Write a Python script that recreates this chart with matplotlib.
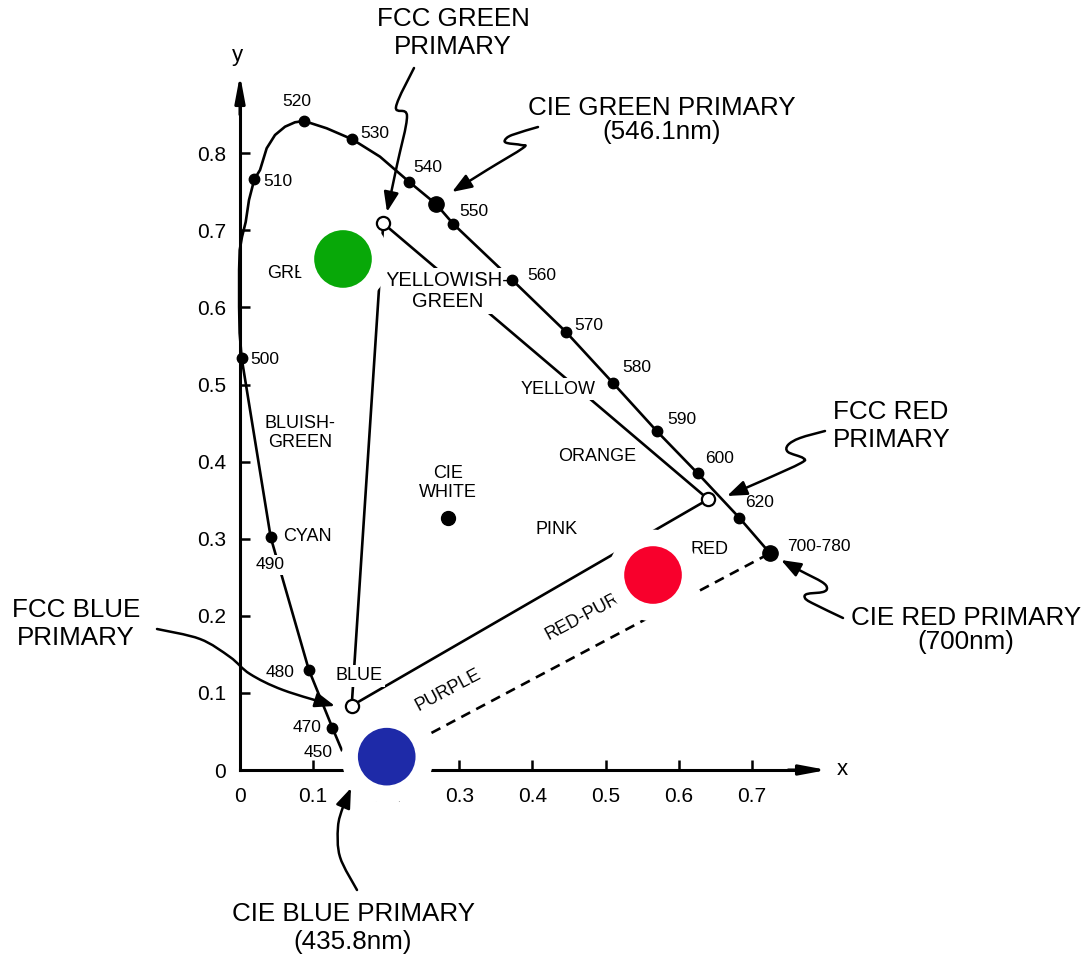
import numpy as np
import matplotlib
matplotlib.use('Agg')
import matplotlib.pyplot as plt
from matplotlib.patches import FancyArrowPatch
from matplotlib.path import Path
from matplotlib.transforms import Affine2D

plt.rcParams['font.family'] = ['Liberation Sans', 'DejaVu Sans']

W, H = 1083, 958

# spectral locus, from the 450 nm end round to 700 nm
locus_x = [0.1392, 0.1265, 0.0941, 0.0420, 0.0023, -0.0005, -0.0012, -0.0012, -0.0004,
           0.0027, 0.0078, 0.0123, 0.0196, 0.0274, 0.0365, 0.0479, 0.0616, 0.0752,
           0.0876, 0.1186, 0.1536, 0.1915, 0.2312, 0.2681, 0.2918, 0.3725, 0.4456,
           0.5103, 0.5700, 0.6261, 0.6830, 0.7250]
locus_y = [0.0259, 0.0545, 0.1301, 0.3018, 0.5340, 0.5668, 0.6009, 0.6485, 0.6744,
           0.6913, 0.7108, 0.7393, 0.7661, 0.7782, 0.8064, 0.8236, 0.8344, 0.8401,
           0.8418, 0.8323, 0.8180, 0.7955, 0.7630, 0.7341, 0.7082, 0.6355, 0.5685,
           0.5019, 0.4397, 0.3848, 0.3272, 0.2811]

# wavelength marks (nm)
wl_labels = ['470', '480', '490', '500', '510', '520', '530', '540', '550',
             '560', '570', '580', '590', '600', '620', '700-780']
wl_x = [0.1265, 0.0941, 0.0420, 0.0023, 0.0196, 0.0876, 0.1536, 0.2312, 0.2918,
        0.3725, 0.4456, 0.5103, 0.5700, 0.6261, 0.6830, 0.7250]
wl_y = [0.0545, 0.1301, 0.3018, 0.5340, 0.7661, 0.8418, 0.8180, 0.7630, 0.7082,
        0.6355, 0.5685, 0.5019, 0.4397, 0.3848, 0.3272, 0.2811]

# FCC primaries: green, red, blue
fcc_x = [0.1960, 0.6406, 0.1528]
fcc_y = [0.7090, 0.3511, 0.0834]

# CIE primaries and white
cie_green = (0.2681, 0.7341)
cie_red = (0.7250, 0.2811)
cie_blue = (0.2007, 0.0173)
cie_white = (0.2845, 0.3268)

# colour swatches
swatch_x = [0.1409, 0.5650, 0.2007]
swatch_y = [0.6628, 0.2529, 0.0173]
swatch_colors = ['#08a808', '#f8002c', '#1e2aa8']

xticks = [0, 0.1, 0.2, 0.3, 0.4, 0.5, 0.6, 0.7]
yticks = [0, 0.1, 0.2, 0.3, 0.4, 0.5, 0.6, 0.7, 0.8]

fig = plt.figure(figsize=(W / 100, H / 100), dpi=100)
ax = fig.add_axes([0, 0, 1, 1])
ax.autoscale(False)
ax.set_xlim(-240 / 731, (W - 240) / 731)
ax.set_ylim((770 - H) / 771, 770 / 771)

# pixel coordinates (origin top-left) for the annotation layer
pix = Affine2D().scale(1 / W, -1 / H).translate(0, 1) + fig.transFigure

# axes
for s in ['top', 'right']:
    ax.spines[s].set_visible(False)
ax.spines['left'].set_position(('data', 0))
ax.spines['bottom'].set_position(('data', 0))
ax.spines['left'].set_bounds(0, 0.88)
ax.spines['bottom'].set_bounds(0, 0.78)
for s in ['left', 'bottom']:
    ax.spines[s].set_linewidth(2.2)
ax.set_xticks(xticks, [f'{t:g}' for t in xticks])
ax.set_yticks(yticks, [f'{t:g}' for t in yticks])
ax.tick_params(direction='in', length=7, width=1.8, labelsize=15)
ax.tick_params(axis='y', pad=10)
ax.tick_params(axis='x', pad=12)
arrow_ax = dict(arrowstyle='-|>,head_length=1.6,head_width=0.3', lw=2.2, color='k',
                shrinkA=0, shrinkB=0, mutation_scale=10)
ax.annotate('', xy=(0, 0.9014), xytext=(0, 0.85), arrowprops=arrow_ax)
ax.annotate('', xy=(0.803, 0), xytext=(0.75, 0), arrowprops=arrow_ax)
ax.text(237, 55, 'y', transform=pix, fontsize=16, ha='center', va='center')
ax.text(842, 770, 'x', transform=pix, fontsize=16, ha='center', va='center')

# spectral locus and marks
ax.plot(locus_x, locus_y, color='k', lw=1.9, zorder=2, solid_joinstyle='round')
sizes = [11 if w == '700-780' else 7.5 for w in wl_labels]
for x, y, ms in zip(wl_x, wl_y, sizes):
    ax.plot(x, y, 'o', color='k', ms=ms, zorder=4)
ax.plot(*cie_green, 'o', color='k', ms=11, zorder=4)
ax.plot(*cie_white, 'o', color='k', ms=10, zorder=4)

# FCC triangle and purple line
ax.plot(fcc_x + fcc_x[:1], fcc_y + fcc_y[:1], color='k', lw=1.9, zorder=2)
ax.plot(fcc_x, fcc_y, 'o', mfc='white', mec='k', mew=1.6, ms=9.5, ls='none', zorder=4)
ax.plot([cie_blue[0], cie_red[0]], [cie_blue[1], cie_red[1]], color='k', lw=1.9,
        ls='--', dashes=(3.8, 2.6), zorder=2)

# wavelength labels
wl_pos = [(307, 728), (280, 673), (270, 565), (265, 360), (278, 182), (297, 102),
          (375, 133), (428, 168), (474, 212), (542, 275), (589, 326), (637, 368),
          (682, 419), (720, 459), (760, 503), (819, 547)]
for lab, (px, py) in zip(wl_labels, wl_pos):
    kw = dict(bbox=dict(fc='white', ec='none', pad=1.5)) if lab == '490' else {}
    ax.text(px, py, lab, transform=pix, fontsize=12.5, ha='center', va='center',
            zorder=3, **kw)
ax.text(318, 753, '450', transform=pix, fontsize=12.5, ha='center', va='center', zorder=3)

# region names
blank = dict(fc='white', ec='none', pad=2)
regions = [
    (267, 274, 'GREEN', dict(ha='left')),
    (448, 291, 'YELLOWISH-\nGREEN', dict(bbox=blank, fontsize=14.5, linespacing=1.15)),
    (300, 433, 'BLUISH-\nGREEN', {}),
    (448, 483, 'CIE\nWHITE', {}),
    (283, 537, 'CYAN', dict(ha='left')),
    (557, 530, 'PINK', {}),
    (597, 457, 'ORANGE', {}),
    (558, 389, 'YELLOW', dict(bbox=blank)),
    (709, 550, 'RED', {}),
    (359, 676, 'BLUE', dict(bbox=blank)),
    (448, 690, 'PURPLE', dict(rotation=28)),
]
for px, py, s, kw in regions:
    opts = dict(ha='center', va='center', fontsize=13, zorder=3, linespacing=1.1)
    opts.update(kw)
    ax.text(px, py, s, transform=pix, **opts)
ax.text(548, 640, 'RED-PURPLE', transform=pix, fontsize=13, rotation=28,
        rotation_mode='anchor', ha='left', va='baseline', zorder=3)

# callout captions
captions = [
    (453, 33, 'FCC GREEN\nPRIMARY', 'center', 1.2),
    (662, 120, 'CIE GREEN PRIMARY\n(546.1nm)', 'center', 1.05),
    (833, 426, 'FCC RED\nPRIMARY', 'left', 1.2),
    (966, 630, 'CIE RED PRIMARY\n(700nm)', 'center', 1.05),
    (76, 624, 'FCC BLUE\nPRIMARY', 'center', 1.2),
    (353, 928, 'CIE BLUE PRIMARY\n(435.8nm)', 'center', 1.2),
]
for px, py, s, ha, ls in captions:
    ax.text(px, py, s, transform=pix, fontsize=18.7, ha=ha, va='center',
            multialignment='center' if ha == 'center' else 'left', linespacing=ls)


def smooth_path(pts):
    p = np.asarray(pts, float)
    ext = np.vstack([p[0], p, p[-1]])
    verts, codes = [p[0]], [Path.MOVETO]
    for i in range(len(p) - 1):
        p0, p1, p2, p3 = ext[i], ext[i + 1], ext[i + 2], ext[i + 3]
        verts += [p1 + (p2 - p0) / 6, p2 - (p3 - p1) / 6, p2]
        codes += [Path.CURVE4] * 3
    return Path(verts, codes)


callouts = [
    [(414, 68), (396, 107), (407, 116), (397, 165), (387, 212)],
    [(538, 127), (512, 135), (505, 140), (507, 143), (521, 145), (523, 148),
     (487, 170), (452, 192)],
    [(825, 431), (800, 438), (788, 445), (788, 452), (803, 458), (801, 463),
     (764, 480), (727, 496)],
    [(843, 618), (812, 603), (805, 598), (807, 594), (823, 592), (827, 588),
     (822, 582), (801, 571), (781, 560)],
    [(157, 629), (200, 639), (230, 657), (250, 674), (283, 690), (335, 706)],
    [(357, 890), (340, 857), (338, 827), (343, 807), (351, 788)],
]
for pts in callouts:
    arr = FancyArrowPatch(path=smooth_path(pts), transform=pix,
                          arrowstyle='-|>,head_length=0.75,head_width=0.28',
                          mutation_scale=16, lw=1.8, color='k', zorder=3)
    ax.add_patch(arr)

# colour swatches with white halo
ax.scatter(swatch_x, swatch_y, s=66 ** 2, c='white', linewidths=0, zorder=6)
ax.scatter(swatch_x, swatch_y, s=41.5 ** 2, c=swatch_colors, linewidths=0, zorder=7)

ax.set_xlim(-240 / 731, (W - 240) / 731)
ax.set_ylim((770 - H) / 771, 770 / 771)
fig.savefig('out.png', dpi=100)
